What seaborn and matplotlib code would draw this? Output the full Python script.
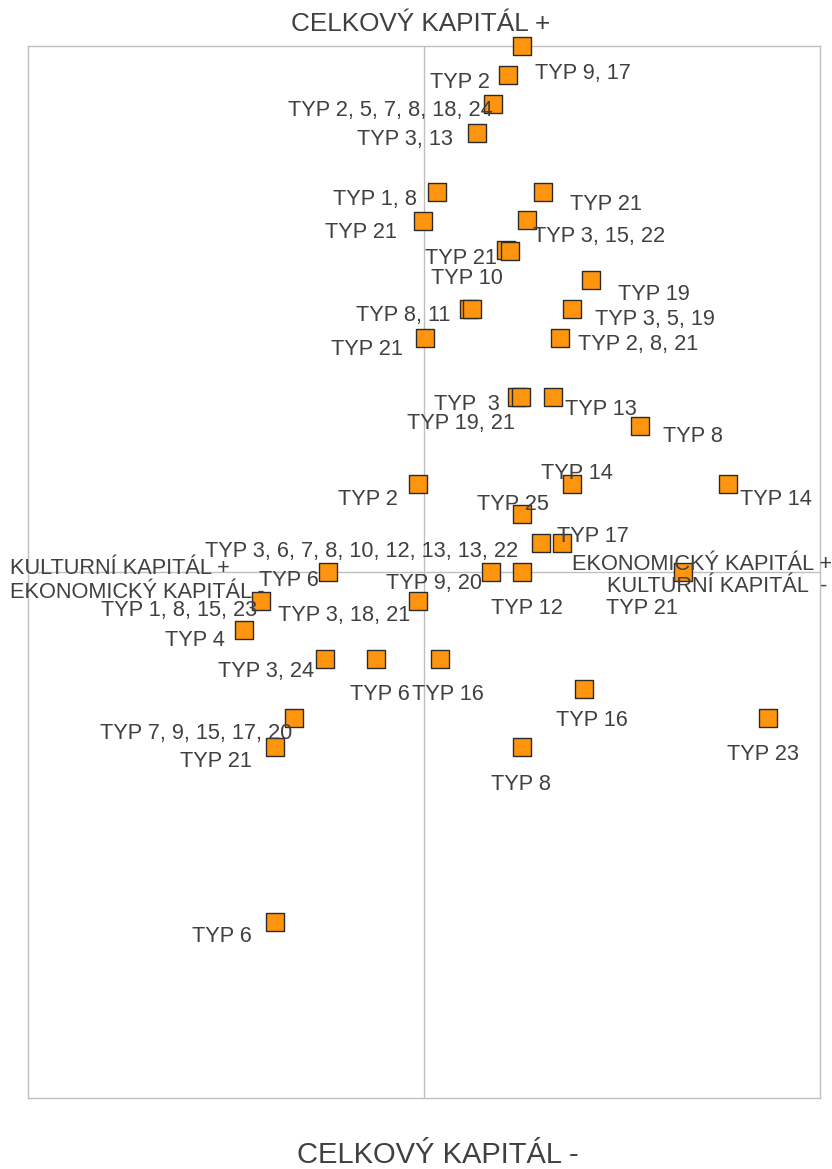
import numpy as np
import pandas as pd
import matplotlib
matplotlib.use("Agg")
import matplotlib.pyplot as plt
import seaborn as sns

# --- data (x: economic vs cultural, y: total capital) ---
x_vals = [0.247, 0.212, 0.174, 0.134, 0.033, 0.301, -0.003, 0.260, 0.207, 0.217,
          0.422, 0.114, 0.121, 0.374, 0.003, 0.343, 0.235, 0.245, 0.326, 0.545,
          -0.015, 0.374, 0.768, 0.247, 0.295, 0.348, -0.242, 0.169, 0.247, 0.654,
          -0.412, -0.015, -0.455, -0.250, -0.121, 0.040, 0.404, -0.328, 0.869,
          -0.376, 0.247, -0.376]
y_vals = [1.000, 0.945, 0.890, 0.835, 0.722, 0.722, 0.667, 0.669, 0.612, 0.610,
          0.555, 0.500, 0.500, 0.500, 0.445, 0.445, 0.333, 0.333, 0.333, 0.278,
          0.167, 0.167, 0.167, 0.110, 0.055, 0.055, 0.000, 0.000, 0.000, 0.000,
          -0.055, -0.055, -0.110, -0.165, -0.165, -0.165, -0.222, -0.278, -0.278,
          -0.333, -0.333, -0.665]
labels = ["TYP 9, 17", "TYP 2", "TYP 2, 5, 7, 8, 18, 24", "TYP 3, 13", "TYP 1, 8",
          "TYP 21", "TYP 21", "TYP 3, 15, 22", "TYP 21", "TYP 10",
          "TYP 19", "TYP 8, 11", "", "TYP 3, 5, 19", "TYP 21", "TYP 2, 8, 21",
          "TYP  3", "TYP 19, 21", "TYP 13", "TYP 8",
          "TYP 2", "TYP 14", "TYP 14", "TYP 25", "TYP 3, 6, 7, 8, 10, 12, 13, 13, 22",
          "TYP 17", "TYP 6", "TYP 9, 20", "TYP 12", "TYP 21",
          "TYP 1, 8, 15, 23", "TYP 3, 18, 21", "TYP 4", "TYP 3, 24", "TYP 6",
          "TYP 16", "TYP 16", "TYP 7, 9, 15, 17, 20", "TYP 23",
          "TYP 21", "TYP 8", "TYP 6"]

# label placement (pixel offset from marker, horizontal alignment)
label_pos = [(13, -26, "left"), (-18, -6, "right"), (0, -5, "right"), (-24, -5, "right"),
             (-20, -5, "right"), (27, -10, "left"), (-26, -9, "right"), (6, -14, "left"),
             (-9, -6, "right"), (-7, -25, "right"), (27, -12, "left"), (-19, -4, "right"),
             (0, 0, "left"), (23, -9, "left"), (-22, -10, "right"), (18, -5, "left"),
             (-17, -6, "right"), (-6, -25, "right"), (12, -11, "left"), (23, -9, "left"),
             (-20, -13, "right"), (5, 13, "center"), (12, -13, "left"), (-9, 12, "center"),
             (-23, -6, "right"), (-5, 9, "left"), (-9, -6, "right"), (-9, -9, "right"),
             (5, -35, "center"), (-41, -35, "center"), (-4, -8, "right"), (-8, -13, "right"),
             (-19, -9, "right"), (-11, -11, "right"), (4, -34, "center"), (8, -34, "center"),
             (8, -30, "center"), (-2, -13, "right"), (-5, -34, "center"), (-23, -12, "right"),
             (-1, -35, "center"), (-23, -13, "right")]

df = pd.DataFrame({"x": x_vals, "y": y_vals, "label": labels})

sns.set_theme(style="white")
plt.rcParams["font.family"] = ["Liberation Sans", "DejaVu Sans"]
text_col = "#404040"
grid_col = "#BFBFBF"
lab_size = 15.7

fig = plt.figure(figsize=(8.32, 11.69), dpi=100)
ax = fig.add_axes([28 / 832, 1 - 1098 / 1169, 792 / 832, 1052 / 1169])

ax.axhline(0, color=grid_col, lw=1, zorder=1)
ax.axvline(0, color=grid_col, lw=1, zorder=1)

sns.scatterplot(data=df, x="x", y="y", marker="s", s=150, color="#FF950E",
                edgecolor="#2b2b2b", linewidth=1, ax=ax, zorder=3, clip_on=False)

for (xv, yv, lab), (dx, dy, ha) in zip(df[["x", "y", "label"]].values, label_pos):
    if lab:
        ax.annotate(lab, (xv, yv), xytext=(dx, dy - 2), textcoords="offset pixels",
                    ha=ha, va="center", fontsize=lab_size, color=text_col, zorder=4)

ax.set_xlim(-1, 1)
ax.set_ylim(-1, 1)
ax.set_xticks([])
ax.set_yticks([])
ax.set_xlabel("")
ax.set_ylabel("")
for sp in ax.spines.values():
    sp.set_color(grid_col)
    sp.set_linewidth(1)

fig.text(421 / 832, 1 - 24 / 1169, "CELKOVÝ KAPITÁL +", ha="center", va="center",
         fontsize=18.8, color=text_col)
fig.text(438 / 832, 1 - 1155 / 1169, "CELKOVÝ KAPITÁL -", ha="center", va="center",
         fontsize=21, color=text_col)
fig.text(10 / 832, 1 - 569 / 1169, "KULTURNÍ KAPITÁL +", ha="left", va="center",
         fontsize=lab_size, color=text_col)
fig.text(10 / 832, 1 - 592 / 1169, "EKONOMICKÝ KAPITÁL -", ha="left", va="center",
         fontsize=lab_size, color=text_col)
fig.text(832 / 832, 1 - 565 / 1169, "EKONOMICKÝ KAPITÁL +", ha="right", va="center",
         fontsize=lab_size, color=text_col)
fig.text(827 / 832, 1 - 587 / 1169, "KULTURNÍ KAPITÁL  -", ha="right", va="center",
         fontsize=lab_size, color=text_col)

fig.savefig("out.png", dpi=100, facecolor="white")
